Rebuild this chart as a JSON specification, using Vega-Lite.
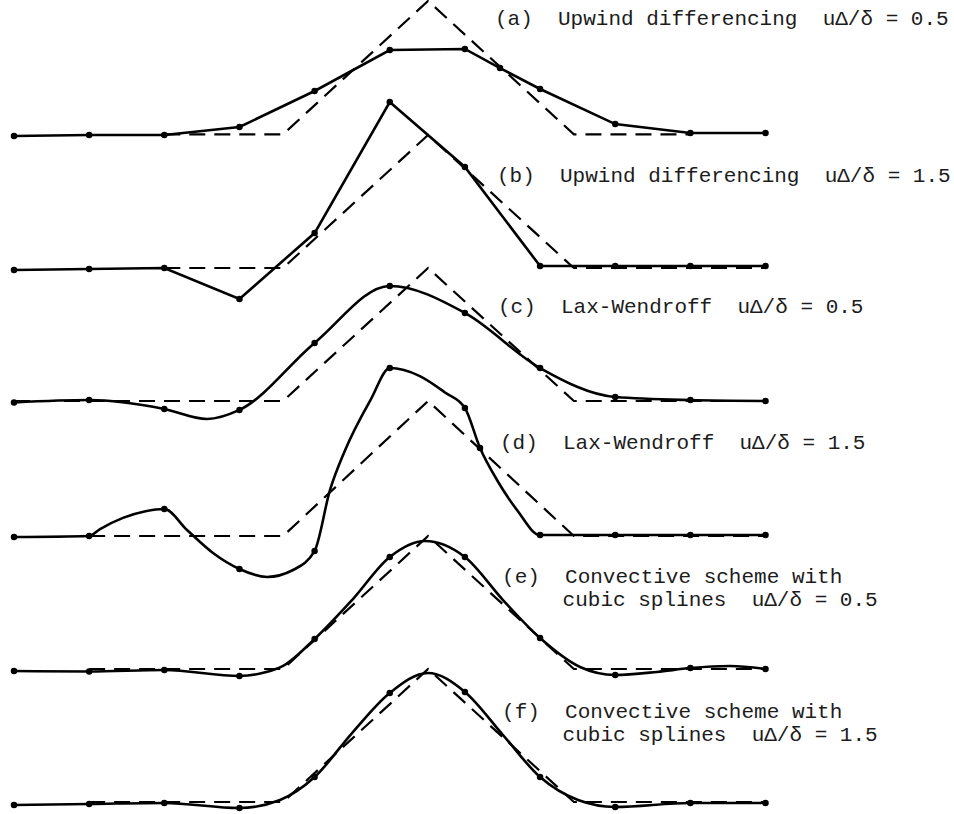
{
  "$schema": "https://vega.github.io/schema/vega-lite/v6.json",
  "width": 954,
  "height": 814,
  "padding": 0,
  "autosize": {"type": "none"},
  "background": "white",
  "config": {"view": {"stroke": null}},
  "datasets": {
    "exact": [
      {"p": "a", "x": 2, "y": 5.005}, {"p": "a", "x": 3.58, "y": 5.005}, {"p": "a", "x": 5.51, "y": 6.005}, {"p": "a", "x": 7.45, "y": 5.005}, {"p": "a", "x": 9, "y": 5.005},
      {"p": "b", "x": 2, "y": 4.003}, {"p": "b", "x": 3.58, "y": 4.003}, {"p": "b", "x": 5.51, "y": 5.0}, {"p": "b", "x": 7.45, "y": 4.003}, {"p": "b", "x": 10, "y": 4.003},
      {"p": "c", "x": 0, "y": 3.006}, {"p": "c", "x": 3.58, "y": 3.006}, {"p": "c", "x": 5.51, "y": 4.003}, {"p": "c", "x": 7.45, "y": 3.006}, {"p": "c", "x": 10, "y": 3.006},
      {"p": "d", "x": 1, "y": 1.994}, {"p": "d", "x": 3.58, "y": 1.994}, {"p": "d", "x": 5.51, "y": 3.006}, {"p": "d", "x": 7.45, "y": 1.994}, {"p": "d", "x": 10, "y": 1.994},
      {"p": "e", "x": 1, "y": 0.997}, {"p": "e", "x": 3.58, "y": 0.997}, {"p": "e", "x": 5.51, "y": 1.994}, {"p": "e", "x": 7.45, "y": 0.997}, {"p": "e", "x": 10, "y": 0.997},
      {"p": "f", "x": 1, "y": 0.0}, {"p": "f", "x": 3.58, "y": 0.0}, {"p": "f", "x": 5.51, "y": 0.997}, {"p": "f", "x": 7.45, "y": 0.0}, {"p": "f", "x": 10, "y": 0.0}
    ],
    "solid": [
      {"p": "a", "x": 0, "y": 4.993, "dot": 1}, {"p": "a", "x": 1, "y": 5.0, "dot": 1}, {"p": "a", "x": 2, "y": 5.0, "dot": 1}, {"p": "a", "x": 3, "y": 5.06, "dot": 1}, {"p": "a", "x": 4, "y": 5.33, "dot": 1}, {"p": "a", "x": 5, "y": 5.637, "dot": 1}, {"p": "a", "x": 6, "y": 5.645, "dot": 1}, {"p": "a", "x": 6.467, "y": 5.502, "dot": 1}, {"p": "a", "x": 7, "y": 5.345, "dot": 1}, {"p": "a", "x": 8, "y": 5.082, "dot": 1}, {"p": "a", "x": 9, "y": 5.015, "dot": 1}, {"p": "a", "x": 10, "y": 5.015, "dot": 1},
      {"p": "b", "x": 0, "y": 3.988, "dot": 1}, {"p": "b", "x": 1, "y": 3.996, "dot": 1}, {"p": "b", "x": 2, "y": 4.003, "dot": 1}, {"p": "b", "x": 3, "y": 3.771, "dot": 1}, {"p": "b", "x": 4, "y": 4.265, "dot": 1}, {"p": "b", "x": 5, "y": 5.247, "dot": 1}, {"p": "b", "x": 6, "y": 4.76, "dot": 1}, {"p": "b", "x": 7, "y": 4.018, "dot": 1}, {"p": "b", "x": 8, "y": 4.018, "dot": 1}, {"p": "b", "x": 9, "y": 4.018, "dot": 1}, {"p": "b", "x": 10, "y": 4.018, "dot": 1},
      {"p": "c", "x": 0, "y": 2.995, "dot": 1}, {"p": "c", "x": 1, "y": 3.013, "dot": 1}, {"p": "c", "x": 2, "y": 2.946, "dot": 1}, {"p": "c", "x": 2.568, "y": 2.871, "dot": 0}, {"p": "c", "x": 3, "y": 2.939, "dot": 1}, {"p": "c", "x": 4, "y": 3.441, "dot": 1}, {"p": "c", "x": 5, "y": 3.868, "dot": 1}, {"p": "c", "x": 6, "y": 3.666, "dot": 1}, {"p": "c", "x": 7, "y": 3.253, "dot": 1}, {"p": "c", "x": 8, "y": 3.036, "dot": 1}, {"p": "c", "x": 9, "y": 3.013, "dot": 1}, {"p": "c", "x": 10, "y": 3.006, "dot": 1},
      {"p": "d", "x": 0, "y": 1.986, "dot": 1}, {"p": "d", "x": 1, "y": 1.994, "dot": 1}, {"p": "d", "x": 1.145, "y": 2.046, "dot": 0}, {"p": "d", "x": 1.45, "y": 2.13, "dot": 0}, {"p": "d", "x": 1.75, "y": 2.18, "dot": 0}, {"p": "d", "x": 2, "y": 2.196, "dot": 1}, {"p": "d", "x": 2.302, "y": 2.039, "dot": 0}, {"p": "d", "x": 2.648, "y": 1.867, "dot": 0}, {"p": "d", "x": 3, "y": 1.747, "dot": 1}, {"p": "d", "x": 3.367, "y": 1.687, "dot": 0}, {"p": "d", "x": 3.713, "y": 1.739, "dot": 0}, {"p": "d", "x": 4, "y": 1.882, "dot": 1}, {"p": "d", "x": 4.205, "y": 2.339, "dot": 0}, {"p": "d", "x": 4.4, "y": 2.63, "dot": 0}, {"p": "d", "x": 4.75, "y": 3.02, "dot": 0}, {"p": "d", "x": 5, "y": 3.253, "dot": 1}, {"p": "d", "x": 5.4, "y": 3.193, "dot": 0}, {"p": "d", "x": 5.735, "y": 3.07, "dot": 0}, {"p": "d", "x": 6, "y": 2.954, "dot": 1}, {"p": "d", "x": 6.201, "y": 2.654, "dot": 1}, {"p": "d", "x": 6.427, "y": 2.414, "dot": 0}, {"p": "d", "x": 6.693, "y": 2.189, "dot": 0}, {"p": "d", "x": 7, "y": 2.001, "dot": 1}, {"p": "d", "x": 8, "y": 2.001, "dot": 1}, {"p": "d", "x": 9, "y": 2.001, "dot": 1}, {"p": "d", "x": 10, "y": 2.001, "dot": 1},
      {"p": "e", "x": 0, "y": 0.982, "dot": 1}, {"p": "e", "x": 1, "y": 0.978, "dot": 1}, {"p": "e", "x": 2, "y": 0.99, "dot": 1}, {"p": "e", "x": 3, "y": 0.945, "dot": 1}, {"p": "e", "x": 3.33, "y": 0.97, "dot": 0}, {"p": "e", "x": 3.58, "y": 1.02, "dot": 0}, {"p": "e", "x": 4, "y": 1.222, "dot": 1}, {"p": "e", "x": 4.498, "y": 1.514, "dot": 0}, {"p": "e", "x": 5, "y": 1.837, "dot": 1}, {"p": "e", "x": 5.469, "y": 1.957, "dot": 0}, {"p": "e", "x": 6, "y": 1.837, "dot": 1}, {"p": "e", "x": 6.507, "y": 1.514, "dot": 0}, {"p": "e", "x": 7, "y": 1.229, "dot": 1}, {"p": "e", "x": 7.532, "y": 1.012, "dot": 0}, {"p": "e", "x": 8, "y": 0.952, "dot": 1}, {"p": "e", "x": 8.556, "y": 0.975, "dot": 0}, {"p": "e", "x": 9, "y": 1.004, "dot": 1}, {"p": "e", "x": 9.528, "y": 1.019, "dot": 0}, {"p": "e", "x": 10, "y": 0.997, "dot": 1},
      {"p": "f", "x": 0, "y": -0.022, "dot": 1}, {"p": "f", "x": 1, "y": -0.015, "dot": 1}, {"p": "f", "x": 2, "y": -0.007, "dot": 1}, {"p": "f", "x": 3, "y": -0.045, "dot": 1}, {"p": "f", "x": 3.54, "y": 0.015, "dot": 0}, {"p": "f", "x": 4, "y": 0.187, "dot": 1}, {"p": "f", "x": 4.498, "y": 0.517, "dot": 0}, {"p": "f", "x": 5, "y": 0.817, "dot": 1}, {"p": "f", "x": 5.509, "y": 0.967, "dot": 0}, {"p": "f", "x": 6, "y": 0.825, "dot": 1}, {"p": "f", "x": 6.507, "y": 0.502, "dot": 0}, {"p": "f", "x": 7, "y": 0.187, "dot": 1}, {"p": "f", "x": 7.505, "y": 0.015, "dot": 0}, {"p": "f", "x": 8, "y": -0.037, "dot": 1}, {"p": "f", "x": 9, "y": -0.007, "dot": 1}, {"p": "f", "x": 10, "y": -0.007, "dot": 1}
    ],
    "labels": [
      {"t": "(a)\u00a0\u00a0Upwind differencing\u00a0\u00a0uΔ/δ = 0.5", "x": 6.4, "y": 5.825},
      {"t": "(b)\u00a0\u00a0Upwind differencing\u00a0\u00a0uΔ/δ = 1.5", "x": 6.427, "y": 4.648},
      {"t": "(c)\u00a0\u00a0Lax-Wendroff\u00a0\u00a0uΔ/δ = 0.5", "x": 6.44, "y": 3.666},
      {"t": "(d)\u00a0\u00a0Lax-Wendroff\u00a0\u00a0uΔ/δ = 1.5", "x": 6.467, "y": 2.646},
      {"t": "(e)\u00a0\u00a0Convective scheme with", "x": 6.494, "y": 1.642},
      {"t": "cubic splines\u00a0\u00a0uΔ/δ = 0.5", "x": 7.3, "y": 1.469},
      {"t": "(f)\u00a0\u00a0Convective scheme with", "x": 6.494, "y": 0.63},
      {"t": "cubic splines\u00a0\u00a0uΔ/δ = 1.5", "x": 7.3, "y": 0.457}
    ]
  },
  "encoding": {
    "x": {"field": "x", "type": "quantitative", "scale": {"domain": [-0.1863, 12.508], "nice": false, "zero": false}, "axis": null},
    "y": {"field": "y", "type": "quantitative", "scale": {"domain": [-0.09, 6.012], "nice": false, "zero": false}, "axis": null}
  },
  "layer": [
    {
      "data": {"name": "exact"},
      "mark": {"type": "line", "strokeDash": [16, 9], "strokeWidth": 2.2, "color": "black", "clip": true},
      "encoding": {"detail": {"field": "p"}}
    },
    {
      "data": {"name": "solid"},
      "transform": [{"filter": {"field": "p", "oneOf": ["a", "b"]}}],
      "mark": {"type": "line", "interpolate": "linear", "strokeWidth": 2.6, "color": "black"},
      "encoding": {"detail": {"field": "p"}}
    },
    {
      "data": {"name": "solid"},
      "transform": [{"filter": {"field": "p", "oneOf": ["c", "d", "e", "f"]}}],
      "mark": {"type": "line", "interpolate": "monotone", "strokeWidth": 2.6, "color": "black"},
      "encoding": {"detail": {"field": "p"}}
    },
    {
      "data": {"name": "solid"},
      "transform": [{"filter": "datum.dot == 1"}],
      "mark": {"type": "circle", "size": 42, "color": "black", "opacity": 1},
      "encoding": {}
    },
    {
      "data": {"name": "labels"},
      "mark": {"type": "text", "align": "left", "baseline": "alphabetic", "font": "Liberation Mono", "fontSize": 21, "color": "#1c1c1c"},
      "encoding": {"text": {"field": "t"}}
    }
  ]
}
